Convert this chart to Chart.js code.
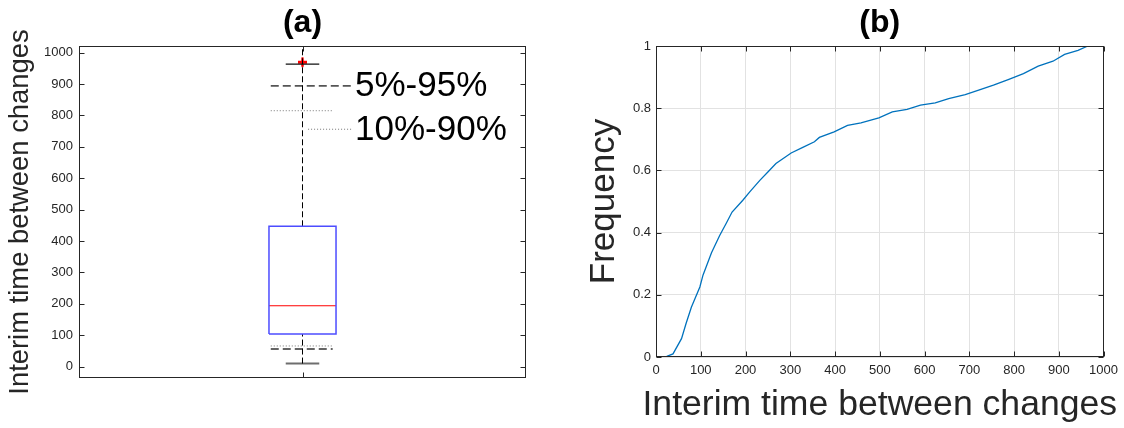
<!DOCTYPE html>
<html>
<head>
<meta charset="utf-8">
<script src="https://cdn.jsdelivr.net/npm/chart.js@4.4.1/dist/chart.umd.min.js"></script>
<style>
  html, body { margin: 0; padding: 0; background: #ffffff; }
  #wrap { position: relative; width: 1124px; height: 428px; overflow: hidden; }
  canvas { position: absolute; top: 0; }
  #ca { left: 0; }
  #cb { left: 562px; }
</style>
</head>
<body>
<div id="wrap">
  <canvas id="ca" width="562" height="428"></canvas>
  <canvas id="cb" width="562" height="428"></canvas>
</div>
<script>
// ---------- data (a): box plot of interim times ----------
const yTicksA = [0, 100, 200, 300, 400, 500, 600, 700, 800, 900, 1000];
const boxQuartiles = [104, 194, 447];      // Q1, median, Q3
const whiskerEnds = [10, 963];              // lower, upper whisker
const pct5_95 = [56, 894];                  // 5th, 95th percentile
const pct10_90 = [66, 815];                 // 10th, 90th percentile
const outliers = [968, 971];
const rangeLabels = ['5%-95%', '10%-90%'];
const axisTitleA = 'Interim time between changes';

// ---------- data (b): empirical CDF ----------
const cdfX = [5, 24, 38, 57, 67, 79, 98, 105, 124, 142, 157, 170, 194, 209, 232, 250, 268, 302, 328, 354, 365, 398, 428, 458, 498, 528, 561, 591, 624, 654, 691, 721, 754, 787, 821, 854, 887, 913, 943, 965];
const cdfY = [0, 0.002, 0.01, 0.059, 0.107, 0.16, 0.225, 0.263, 0.335, 0.39, 0.43, 0.466, 0.504, 0.53, 0.568, 0.595, 0.622, 0.656, 0.674, 0.692, 0.706, 0.724, 0.745, 0.753, 0.769, 0.788, 0.796, 0.81, 0.817, 0.831, 0.844, 0.858, 0.874, 0.892, 0.911, 0.935, 0.951, 0.973, 0.986, 1.0];
const xTicksB = [0, 100, 200, 300, 400, 500, 600, 700, 800, 900, 1000];
const yTicksB = [0, 0.2, 0.4, 0.6, 0.8, 1];
const axisTitleBx = 'Interim time between changes';
const axisTitleBy = 'Frequency';

// ---------- styles ----------
const FONT = '"Liberation Sans", Arial, Helvetica, sans-serif';
const AXIS = '#262626';
const Y_MIN_A = -36, Y_MAX_A = 1021;

Chart.defaults.font.family = FONT;

function seg(points, color, width, dash) {
  return {
    data: points.map(p => ({ x: p[0], y: p[1] })),
    showLine: true,
    borderColor: color,
    borderWidth: width,
    borderDash: dash || [],
    pointRadius: 0,
    fill: false,
    tension: 0
  };
}

// frame + inward ticks
const framePlugin = {
  id: 'frame',
  afterDraw(chart) {
    const { ctx, chartArea: a, scales } = chart;
    const L = Math.round(a.left) + 0.5, R = Math.round(a.right) - 0.5;
    const T = Math.round(a.top) + 0.5, B = Math.round(a.bottom) - 0.5;
    ctx.save();
    ctx.strokeStyle = AXIS;
    ctx.lineWidth = 1;
    ctx.setLineDash([]);
    ctx.strokeRect(L, T, R - L, B - T);
    const len = 5;
    ctx.beginPath();
    scales.y.ticks.forEach(t => {
      const py = Math.round(scales.y.getPixelForValue(t.value)) + 0.5;
      ctx.moveTo(L, py); ctx.lineTo(L + len, py);
      ctx.moveTo(R, py); ctx.lineTo(R - len, py);
    });
    scales.x.ticks.forEach(t => {
      const px = Math.round(scales.x.getPixelForValue(t.value)) + 0.5;
      ctx.moveTo(px, B); ctx.lineTo(px, B - len);
      ctx.moveTo(px, T); ctx.lineTo(px, T + len);
    });
    ctx.stroke();
    ctx.restore();
  }
};

// axis titles drawn at natural width (no squeezing)
function axisTitlePlugin(cfg) {
  return {
    id: 'axisTitles',
    afterDraw(chart) {
      const { ctx, chartArea: a } = chart;
      ctx.save();
      ctx.fillStyle = AXIS;
      ctx.textAlign = 'center';
      ctx.textBaseline = 'middle';
      if (cfg.y) {
        ctx.save();
        ctx.font = cfg.y.size + 'px ' + FONT;
        ctx.translate(cfg.y.x, (a.top + a.bottom) / 2);
        ctx.rotate(-Math.PI / 2);
        ctx.fillText(cfg.y.text, 0, 0);
        ctx.restore();
      }
      if (cfg.x) {
        ctx.font = cfg.x.size + 'px ' + FONT;
        ctx.fillText(cfg.x.text, (a.left + a.right) / 2, cfg.x.y);
      }
      ctx.restore();
    }
  };
}

// range labels for panel (a)
const labelPlugin = {
  id: 'rangeLabels',
  afterDraw(chart) {
    const { ctx, scales } = chart;
    const x = scales.x.getPixelForValue(1.235);
    ctx.save();
    ctx.fillStyle = '#000';
    ctx.font = '35px ' + FONT;
    ctx.textAlign = 'left';
    ctx.textBaseline = 'middle';
    ctx.fillText(rangeLabels[0], x, scales.y.getPixelForValue(pct5_95[1] - 2));
    ctx.fillText(rangeLabels[1], x, scales.y.getPixelForValue(752));
    ctx.restore();
  }
};

// ---------- panel (a) ----------
const boxL = 0.85, boxR = 1.15, capL = 0.925, capR = 1.075, pL = 0.858, pR = 1.135, leadEnd = 1.225;
const [q1, med, q3] = boxQuartiles;
const dsA = [
  seg([[boxL, q1], [boxR, q1], [boxR, q3], [boxL, q3], [boxL, q1]], '#4d4dff', 1.5),
  seg([[boxL, med], [boxR, med]], '#ff0000', 1.2),
  seg([[1, q3], [1, Y_MAX_A]], '#000000', 1, [6, 3]),
  seg([[1, whiskerEnds[0]], [1, q1]], '#000000', 1, [6, 3]),
  seg([[capL, whiskerEnds[1]], [capR, whiskerEnds[1]]], '#111111', 1.3),
  seg([[capL, whiskerEnds[0]], [capR, whiskerEnds[0]]], '#6e6e6e', 2),
  seg([[pL, pct5_95[1]], [leadEnd, pct5_95[1]]], '#555555', 1.6, [8, 4]),
  seg([[pL, pct5_95[0]], [pR, pct5_95[0]]], '#333333', 1.5, [8, 4]),
  seg([[pL, pct10_90[1]], [pR, pct10_90[1]]], '#777777', 1, [1, 2]),
  seg([[pL, pct10_90[0]], [pR, pct10_90[0]]], '#777777', 1, [1, 2]),
  seg([[1.025, 756], [leadEnd, 756]], '#777777', 1, [1, 2]),
  {
    data: outliers.map(v => ({ x: 1, y: v })),
    showLine: false,
    pointStyle: 'cross',
    pointRadius: 4.5,
    pointBorderWidth: 2,
    borderColor: '#ff0000',
    backgroundColor: '#ff0000'
  }
];

new Chart(document.getElementById('ca'), {
  type: 'scatter',
  data: { datasets: dsA },
  options: {
    responsive: false,
    animation: false,
    devicePixelRatio: 1,
    layout: { padding: { left: 0, right: 36, top: 0, bottom: 0 } },
    plugins: {
      legend: { display: false },
      tooltip: { enabled: false },
      title: {
        display: true, text: '(a)', fullSize: false, color: '#000',
        font: { family: FONT, size: 32, weight: 'bold' },
        padding: { top: 4, bottom: 3.6 }
      }
    },
    scales: {
      x: {
        type: 'linear', min: 0, max: 2,
        ticks: { display: false },
        grid: { display: false, drawTicks: false },
        border: { display: false },
        afterBuildTicks: s => { s.ticks = [{ value: 1 }]; },
        afterFit: s => { s.height = 50; }
      },
      y: {
        type: 'linear', min: Y_MIN_A, max: Y_MAX_A,
        afterBuildTicks: s => { s.ticks = yTicksA.map(v => ({ value: v })); },
        ticks: { callback: v => String(v), color: AXIS, font: { family: FONT, size: 13 }, padding: 6 },
        grid: { display: false, drawTicks: false },
        border: { display: false },
        afterFit: s => { s.width = 79; }
      }
    }
  },
  plugins: [framePlugin, labelPlugin, axisTitlePlugin({ y: { text: axisTitleA, size: 27.4, x: 20 } })]
});

// ---------- panel (b) ----------
new Chart(document.getElementById('cb'), {
  type: 'scatter',
  data: {
    datasets: [{
      data: cdfX.map((x, i) => ({ x: x, y: cdfY[i] })),
      showLine: true,
      borderColor: '#0072BD',
      borderWidth: 1.3,
      pointRadius: 0,
      tension: 0,
      fill: false
    }]
  },
  options: {
    responsive: false,
    animation: false,
    devicePixelRatio: 1,
    layout: { padding: { left: 0, right: 18, top: 0, bottom: 0 } },
    plugins: {
      legend: { display: false },
      tooltip: { enabled: false },
      title: {
        display: true, text: '(b)', fullSize: false, color: '#000',
        font: { family: FONT, size: 32, weight: 'bold' },
        padding: { top: 4, bottom: 3.6 }
      }
    },
    scales: {
      x: {
        type: 'linear', min: 0, max: 1000,
        afterBuildTicks: s => { s.ticks = xTicksB.map(v => ({ value: v })); },
        ticks: { callback: v => String(v), color: AXIS, font: { family: FONT, size: 13 }, padding: 6, maxRotation: 0, autoSkip: false },
        grid: { color: '#e2e2e2', lineWidth: 1, drawTicks: false },
        border: { display: false },
        afterFit: s => { s.height = 71; }
      },
      y: {
        type: 'linear', min: 0, max: 1,
        afterBuildTicks: s => { s.ticks = yTicksB.map(v => ({ value: v })); },
        ticks: { callback: v => String(v), color: AXIS, font: { family: FONT, size: 13 }, padding: 5 },
        grid: { color: '#e2e2e2', lineWidth: 1, drawTicks: false },
        border: { display: false },
        afterFit: s => { s.width = 94; }
      }
    }
  },
  plugins: [framePlugin, axisTitlePlugin({
    y: { text: axisTitleBy, size: 35, x: 42.5 },
    x: { text: axisTitleBx, size: 35.6, y: 405 }
  })]
});
</script>
</body>
</html>
